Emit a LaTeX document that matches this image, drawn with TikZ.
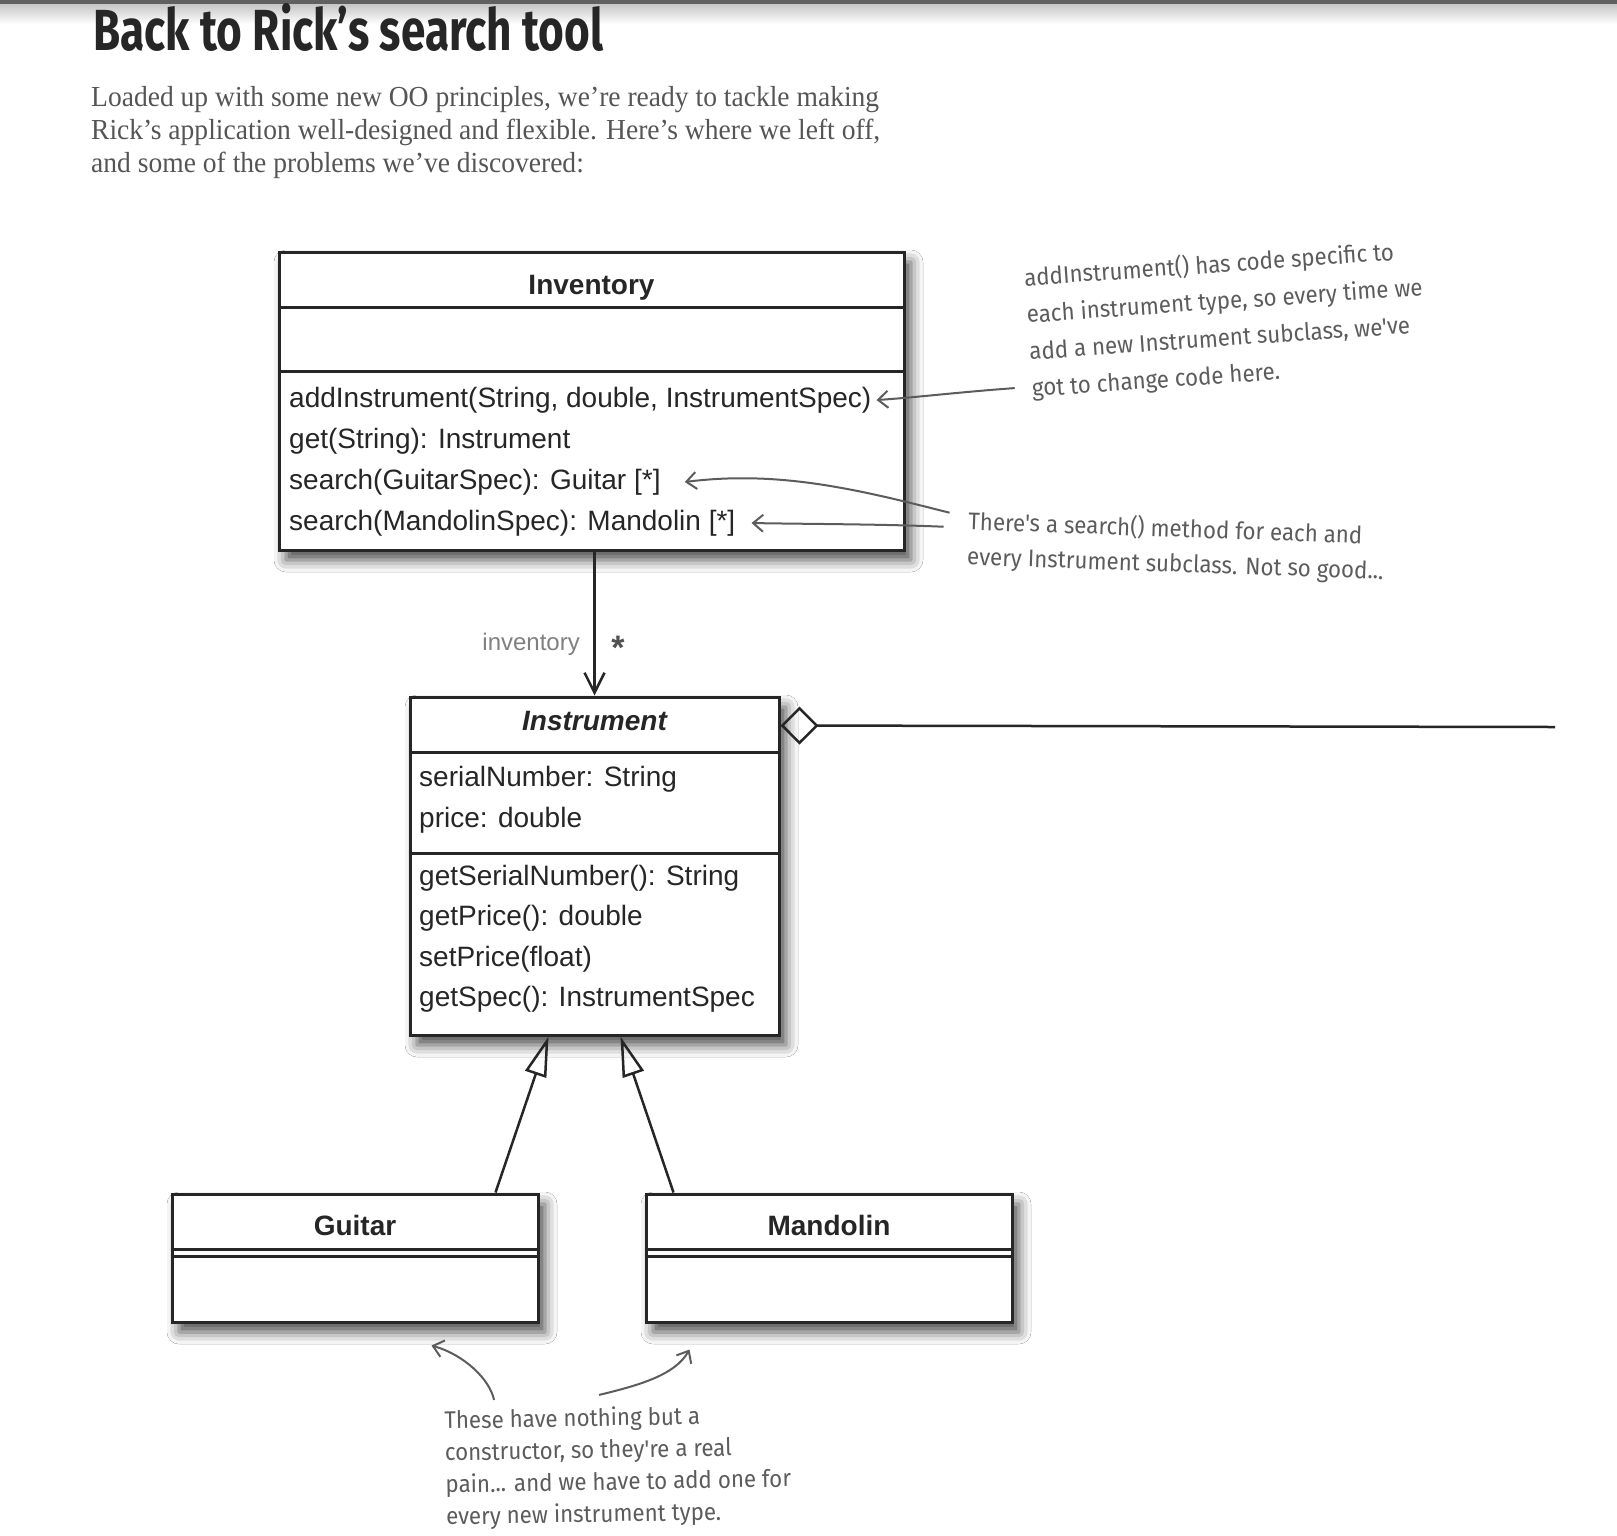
\documentclass[tikz,border=0pt]{standalone}
\usepackage{fontspec}
\setmainfont{Liberation Serif}
\newfontfamily\umlfont{Liberation Sans}
\newfontfamily\titlefont[FakeStretch=0.76]{Fira Sans}
\newfontfamily\notefont[FakeStretch=0.93]{Fira Sans}
\newfontfamily\bodyfont[FakeStretch=0.95]{Liberation Serif}
\usetikzlibrary{arrows.meta,shadows.blur}

\definecolor{ink}{HTML}{262626}
\definecolor{pencil}{HTML}{5C5C5C}
\definecolor{bodygray}{HTML}{555555}

\tikzset{
  classbox/.style={draw=ink, line width=3pt, fill=white, inner sep=0pt,
    blur shadow={shadow xshift=7pt, shadow yshift=-10pt, shadow blur radius=12pt, shadow opacity=70}},
  divider/.style={draw=ink, line width=3pt},
  classname/.style={font=\umlfont\bfseries\fontsize{28}{34}\selectfont, text=ink, inner sep=0pt},
  member/.style={anchor=west, font=\umlfont\fontsize{28}{34}\selectfont, text=ink, inner sep=0pt},
  link/.style={draw=ink, line width=2.5pt},
  note/.style={font=\notefont\fontsize{24}{#1}\selectfont, text=pencil, align=left, inner sep=0pt},
  note/.default=37,
  pointer/.style={draw=pencil, line width=2pt, -{Straight Barb[length=10pt,width=17pt]}}
}

\begin{document}
\begin{tikzpicture}[x=1pt, y=-1pt]
\useasboundingbox (0,0) rectangle (1617,1535);
\fill[white] (0,0) rectangle (1617,1535);

% page edge
\shade[top color=gray!45, bottom color=white] (0,4) rectangle (1617,24);
\fill[gray!75!black] (0,0) rectangle (1617,4);

% heading and intro
\node[anchor=base west, font=\titlefont\bfseries\fontsize{58}{60}\selectfont, text=ink, inner sep=0pt] (title) at (93,50) {Back to Rick’s search tool};
\node[anchor=north west, align=left, font=\bodyfont\fontsize{29}{33}\selectfont, text=bodygray, inner sep=0pt] (intro) at (91,86)
  {Loaded up with some new OO principles, we’re ready to tackle making\\
   Rick’s application well-designed and flexible. Here’s where we left off,\\
   and some of the problems we’ve discovered:};

% Inventory
\node[classbox, minimum width=625pt, minimum height=298pt] (inv) at (591.5,401) {};
\draw[divider] ([yshift=-57pt]inv.north west) -- ([yshift=-57pt]inv.north east);
\draw[divider] ([yshift=-121pt]inv.north west) -- ([yshift=-121pt]inv.north east);
\node[classname] (invname) at ([yshift=-37pt]inv.north) {Inventory};
\node[member] (addm) at (289,400) {addInstrument(String, double, InstrumentSpec)};
\node[member] (getm) at (289,441) {get(String): Instrument};
\node[member] (sgm)  at (289,482) {search(GuitarSpec): Guitar [*]};
\node[member] (smm)  at (289,523) {search(MandolinSpec): Mandolin [*]};

% Instrument
\node[classbox, minimum width=369pt, minimum height=338pt] (instr) at (594.5,866) {};
\draw[divider] ([yshift=-57pt]instr.north west) -- ([yshift=-57pt]instr.north east);
\draw[divider] ([yshift=-158pt]instr.north west) -- ([yshift=-158pt]instr.north east);
\node[classname, font=\umlfont\bfseries\itshape\fontsize{28}{34}\selectfont] (instrname) at ([yshift=-25pt]instr.north) {Instrument};
\node[member] (serialm) at (419,779) {serialNumber: String};
\node[member] (pricem)  at (419,820) {price: double};
\node[member] (gsnm)    at (419,878) {getSerialNumber(): String};
\node[member] (gpm)     at (419,918) {getPrice(): double};
\node[member] (spm)     at (419,959) {setPrice(float)};
\node[member] (gspecm)  at (419,999) {getSpec(): InstrumentSpec};

% Guitar and Mandolin
\node[classbox, minimum width=366pt, minimum height=128pt] (guitar) at (355,1258) {};
\draw[divider] ([yshift=-57pt]guitar.north west) -- ([yshift=-57pt]guitar.north east);
\draw[divider] ([yshift=-64pt]guitar.north west) -- ([yshift=-64pt]guitar.north east);
\node[classname] (guitarname) at ([yshift=-33pt]guitar.north) {Guitar};

\node[classbox, minimum width=366pt, minimum height=128pt] (mandolin) at (829,1258) {};
\draw[divider] ([yshift=-57pt]mandolin.north west) -- ([yshift=-57pt]mandolin.north east);
\draw[divider] ([yshift=-64pt]mandolin.north west) -- ([yshift=-64pt]mandolin.north east);
\node[classname] (mandolinname) at ([yshift=-33pt]mandolin.north) {Mandolin};

% associations
\draw[link, -{Straight Barb[length=20pt,width=20pt]}] (inv.south -| instr.north) -- (instr.north);
\node[font=\umlfont\fontsize{24}{28}\selectfont, text=gray, anchor=east, inner sep=0pt] (rolename) at (580,644) {inventory};
\node[font=\umlfont\bfseries\fontsize{34}{36}\selectfont, text=ink!80, inner sep=0pt] (mult) at (618,648) {*};
\coordinate (aggend) at (1555,727);
\draw[link, {Diamond[open,length=38pt,width=38pt]}-] ([yshift=-30pt]instr.north east) -- (aggend);

% inheritance
\draw[link, -{Triangle[open,length=40pt,width=22pt]}] ([xshift=-44pt]guitar.north east) -- ([xshift=140pt]instr.south west);
\draw[link, -{Triangle[open,length=40pt,width=22pt]}] ([xshift=29pt]mandolin.north west) -- ([xshift=212pt]instr.south west);

% notes
\node[note, rotate=4] (addnote) at (1226,320)
  {addInstrument() has code specific to\\
   each instrument type, so every time we\\
   add a new Instrument subclass, we've\\
   got to change code here.};
\node[note=35, rotate=-2] (searchnote) at (1176,547)
  {There's a search() method for each and\\
   every Instrument subclass. Not so good...};
\node[note=32, rotate=1] (ctornote) at (618,1467)
  {These have nothing but a\\
   constructor, so they're a real\\
   pain... and we have to add one for\\
   every new instrument type.};

\draw[pointer] ([shift={(-18,-14)}]addnote.south west) .. controls (960,392) and (910,398) .. ([xshift=5pt]addm.east);
\draw[pointer] ([shift={(-18,-27)}]searchnote.west) .. controls (860,490) and (780,470) .. ([xshift=24pt]sgm.east);
\draw[pointer] ([shift={(-24,-13)}]searchnote.west) .. controls (880,524) and (800,524) .. ([xshift=16pt]smm.east);
\draw[pointer] ([shift={(50,-10)}]ctornote.north west) .. controls (490,1380) and (465,1355) .. ([shift={(261,22)}]guitar.south west);
\draw[pointer] ([shift={(155,-15)}]ctornote.north west) .. controls (640,1385) and (675,1375) .. ([shift={(45,26)}]mandolin.south west);
\end{tikzpicture}
\end{document}
